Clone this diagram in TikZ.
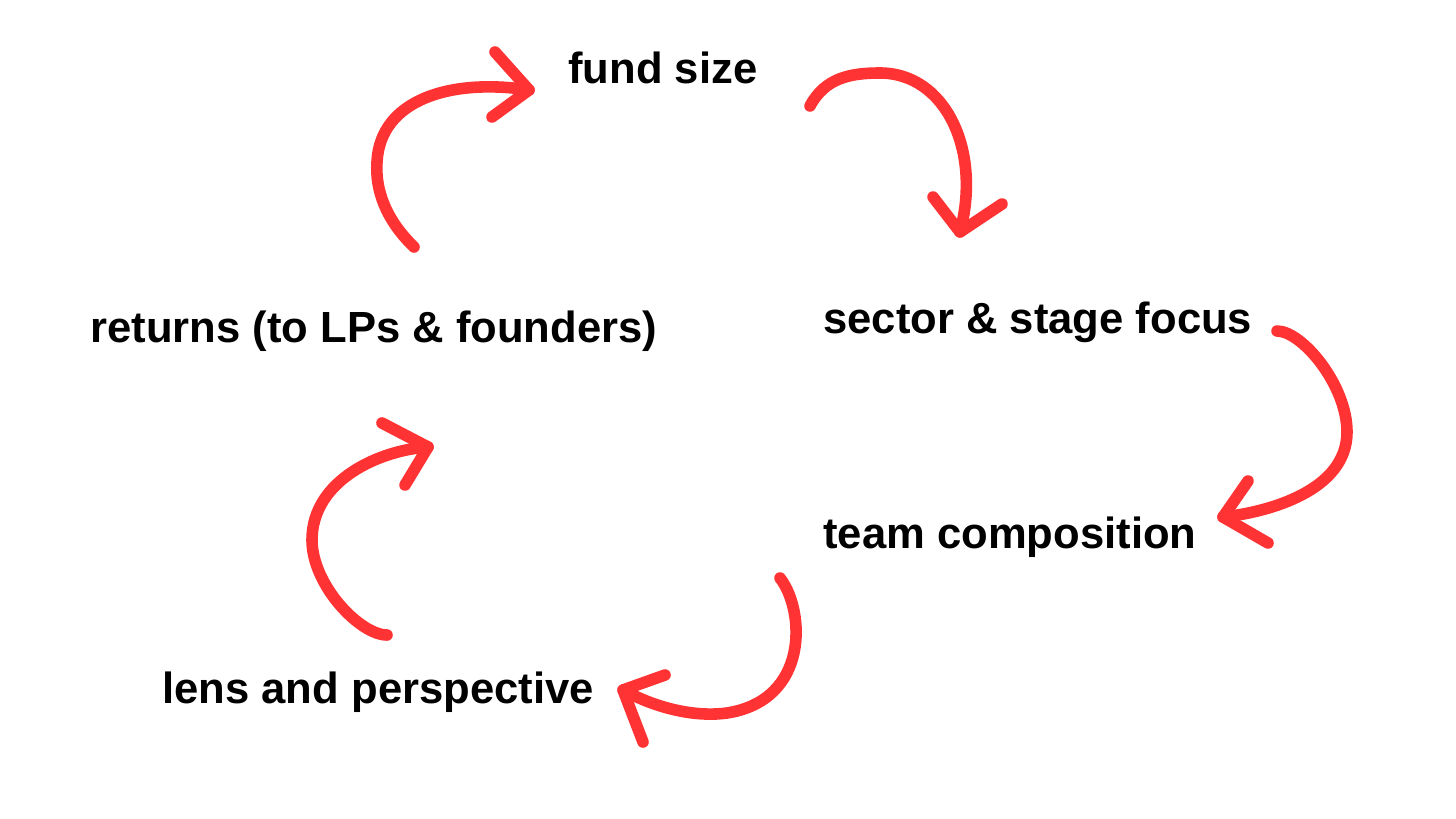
\documentclass[tikz,border=0pt]{standalone}
\usepackage{fontspec}
\setmainfont{Liberation Sans}
\definecolor{arrowred}{RGB}{255,51,51}
\begin{document}
\begin{tikzpicture}[x=0.5pt,y=-0.5pt,
  lbl/.style={anchor=base west,inner sep=0pt,font=\bfseries\fontsize{21.8pt}{26pt}\selectfont,text=black},
  stroke/.style={draw=arrowred,line width=5.8pt,line cap=round,line join=round}]
\useasboundingbox[fill=white] (0,0) rectangle (1456,819);
% labels
\node[lbl] (fund) at (568,83) {fund size};
\node[lbl] (sector) at (823,333) {sector \& stage focus};
\node[lbl] (team) at (823,548) {team composition};
\node[lbl] (lens) at (162,703) {lens and perspective};
\node[lbl] (returns) at (90,342) {returns (to LPs \& founders)};
% arrow 1: returns -> fund size
\coordinate (a1s) at (414,247);
\coordinate (a1m) at (377,162);
\coordinate (a1t) at (529,90);
\draw[stroke] (a1s) .. controls (386,220) and (375,190) .. (a1m) .. controls (380,100) and (450,78) .. (a1t);
\draw[stroke] (495,52) -- (a1t) -- (492,117);
% arrow 2: fund size -> sector
\coordinate (a2s) at (810,106);
\coordinate (a2m) at (880,73);
\coordinate (a2t) at (960,232);
\draw[stroke] (a2s) .. controls (825,78) and (850,73) .. (a2m) .. controls (945,73) and (982,150) .. (a2t);
\draw[stroke] (933,197) -- (a2t) -- (1002,204);
% arrow 3: sector -> team
\coordinate (a3s) at (1277,331);
\coordinate (a3m) at (1347,432);
\coordinate (a3t) at (1223,517);
\draw[stroke] (a3s) .. controls (1302,331) and (1347,385) .. (a3m) .. controls (1347,490) and (1270,512) .. (a3t);
\draw[stroke] (1248,481) -- (a3t) -- (1268,543);
% arrow 4: team -> lens
\coordinate (a4s) at (780,578);
\coordinate (a4m) at (727,713);
\coordinate (a4t) at (623,690);
\draw[stroke] (a4s) .. controls (805,610) and (810,700) .. (a4m) .. controls (690,718) and (650,705) .. (a4t);
\draw[stroke] (665,675) -- (a4t) -- (643,742);
% arrow 5: lens -> returns
\coordinate (a5s) at (387,635);
\coordinate (a5m) at (312,540);
\coordinate (a5t) at (428,447);
\draw[stroke] (a5s) .. controls (360,635) and (312,585) .. (a5m) .. controls (312,480) and (380,450) .. (a5t);
\draw[stroke] (382,423) -- (a5t) -- (405,485);
\end{tikzpicture}
\end{document}
